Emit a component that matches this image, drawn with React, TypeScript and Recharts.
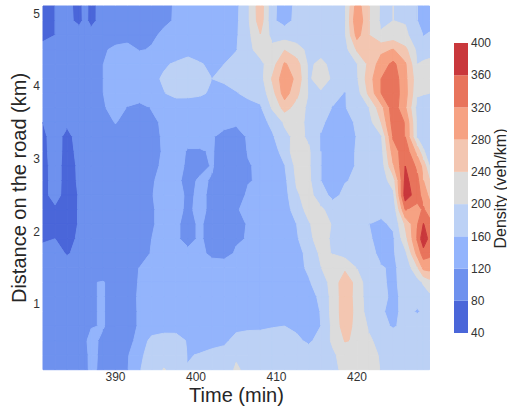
import { ScatterChart, Scatter, XAxis, YAxis, BarChart, Bar } from 'recharts';

const times = [381, 382.5, 384, 385.5, 386.25, 387, 388.5, 390, 391.5, 393, 394.5, 396, 397.5, 399, 400.5, 402, 403.5, 405, 406.5, 408, 409.5, 411, 412.5, 414, 415.5, 417, 418.5, 420, 421.5, 423, 424.5, 426, 427.5, 428.25, 429];
const distances = [5.1, 4.9, 4.7, 4.5, 4.3, 4.1, 3.9, 3.7, 3.5, 3.3, 3.1, 2.9, 2.7, 2.5, 2.3, 2.1, 1.9, 1.7, 1.5, 1.3, 1.1, 0.9, 0.7, 0.5, 0.3, 0.1];

// density (veh/km), one row per distance, top of the plot first
const density = [
  [66, 80, 84, 75, 86, 72, 92, 100, 105, 108, 110, 115, 122, 130, 135, 138, 145, 150, 195, 265, 165, 150, 165, 175, 180, 185, 195, 300, 240, 193, 200, 198, 160, 152, 145],
  [68, 80, 86, 74, 86, 71, 94, 100, 104, 108, 112, 116, 122, 128, 135, 138, 145, 152, 195, 262, 165, 148, 168, 175, 180, 185, 195, 315, 240, 192, 200, 198, 160, 150, 142],
  [72, 80, 90, 92, 92, 92, 96, 102, 108, 112, 116, 124, 130, 135, 138, 142, 150, 155, 190, 238, 185, 180, 180, 180, 185, 188, 195, 295, 240, 205, 215, 205, 185, 158, 165],
  [90, 92, 95, 100, 102, 104, 115, 128, 130, 118, 122, 132, 138, 145, 148, 152, 155, 158, 190, 215, 212, 238, 215, 190, 185, 180, 185, 245, 262, 270, 282, 250, 190, 191, 192],
  [96, 96, 98, 100, 104, 108, 120, 135, 140, 142, 145, 155, 165, 175, 162, 155, 160, 175, 185, 190, 222, 285, 258, 192, 210, 188, 185, 198, 250, 300, 330, 285, 200, 203, 205],
  [98, 100, 102, 104, 108, 112, 120, 138, 142, 144, 150, 165, 178, 178, 170, 160, 165, 172, 176, 185, 245, 305, 270, 192, 225, 192, 185, 195, 262, 320, 345, 290, 215, 215, 215],
  [100, 100, 102, 105, 108, 112, 120, 132, 138, 142, 150, 158, 172, 170, 165, 155, 150, 158, 168, 175, 225, 300, 250, 198, 192, 172, 158, 182, 250, 320, 345, 295, 205, 202, 200],
  [100, 100, 102, 105, 107, 110, 116, 135, 118, 108, 122, 130, 135, 138, 140, 140, 142, 145, 148, 155, 205, 255, 225, 190, 175, 158, 158, 175, 200, 265, 345, 285, 185, 182, 180],
  [80, 92, 84, 96, 98, 100, 102, 122, 104, 102, 112, 126, 130, 132, 132, 130, 128, 125, 135, 145, 170, 205, 215, 190, 165, 150, 148, 165, 185, 240, 340, 318, 190, 182, 175],
  [76, 88, 74, 88, 92, 94, 98, 102, 100, 100, 110, 124, 130, 128, 128, 122, 112, 106, 124, 135, 155, 190, 210, 195, 158, 140, 138, 162, 175, 195, 325, 320, 195, 180, 170],
  [74, 90, 72, 86, 90, 92, 96, 100, 100, 98, 106, 124, 128, 118, 118, 122, 108, 104, 122, 128, 140, 178, 225, 205, 160, 138, 138, 165, 172, 185, 300, 345, 265, 205, 175],
  [72, 90, 70, 84, 88, 90, 94, 98, 98, 96, 114, 124, 128, 116, 112, 122, 104, 102, 118, 125, 135, 158, 212, 205, 160, 135, 140, 165, 170, 178, 275, 360, 310, 265, 200],
  [70, 92, 68, 84, 88, 90, 94, 96, 96, 96, 118, 126, 126, 112, 124, 118, 102, 100, 118, 124, 128, 150, 205, 208, 160, 134, 158, 165, 170, 178, 220, 372, 330, 280, 242],
  [70, 92, 66, 82, 86, 88, 92, 94, 94, 94, 119, 128, 128, 116, 124, 116, 100, 104, 126, 125, 126, 145, 195, 215, 175, 150, 168, 172, 172, 170, 190, 385, 335, 305, 270],
  [72, 74, 68, 82, 86, 88, 92, 92, 92, 94, 118, 126, 126, 116, 126, 114, 102, 118, 126, 128, 130, 142, 178, 215, 208, 180, 172, 170, 170, 168, 170, 322, 308, 325, 300],
  [70, 72, 68, 82, 85, 86, 90, 92, 92, 94, 118, 126, 124, 112, 124, 108, 96, 100, 125, 130, 135, 140, 160, 195, 225, 195, 170, 165, 160, 155, 165, 245, 318, 362, 335],
  [76, 80, 72, 84, 86, 86, 88, 90, 92, 94, 120, 126, 124, 112, 124, 108, 98, 116, 122, 132, 135, 138, 155, 188, 222, 190, 172, 165, 165, 145, 155, 225, 325, 392, 345],
  [90, 88, 78, 86, 86, 86, 88, 90, 92, 96, 124, 128, 130, 126, 128, 112, 108, 124, 130, 134, 136, 138, 148, 170, 208, 198, 185, 178, 170, 152, 156, 190, 295, 340, 330],
  [88, 90, 92, 92, 94, 96, 100, 100, 106, 121, 128, 130, 132, 134, 135, 136, 138, 138, 136, 136, 138, 140, 148, 166, 198, 228, 232, 198, 170, 162, 156, 170, 235, 292, 295],
  [90, 92, 94, 96, 105, 118, 122, 102, 110, 122, 128, 132, 134, 136, 136, 138, 138, 138, 136, 136, 138, 140, 145, 156, 180, 215, 265, 225, 172, 163, 156, 168, 185, 205, 225],
  [92, 92, 94, 96, 106, 118, 122, 102, 108, 124, 130, 134, 134, 136, 136, 138, 138, 138, 136, 136, 138, 140, 144, 150, 165, 215, 262, 225, 175, 165, 156, 165, 168, 178, 190],
  [92, 94, 94, 96, 106, 118, 122, 102, 106, 124, 130, 134, 134, 136, 136, 136, 136, 136, 136, 136, 136, 138, 142, 148, 161, 215, 262, 228, 178, 162, 155, 166, 158, 163, 172],
  [92, 94, 94, 96, 106, 118, 122, 102, 106, 124, 130, 136, 140, 142, 144, 146, 148, 150, 152, 152, 158, 160, 155, 152, 160, 210, 260, 225, 195, 170, 156, 170, 172, 173, 174],
  [92, 94, 94, 104, 116, 130, 112, 104, 112, 128, 175, 185, 180, 155, 148, 145, 152, 172, 178, 180, 175, 175, 165, 155, 170, 208, 242, 236, 205, 188, 185, 185, 180, 179, 178],
  [92, 94, 94, 100, 113, 128, 112, 104, 116, 154, 172, 185, 190, 158, 162, 172, 175, 195, 185, 182, 180, 178, 175, 175, 178, 192, 220, 225, 215, 195, 188, 185, 182, 181, 180],
  [92, 94, 94, 100, 112, 128, 110, 104, 118, 158, 178, 202, 190, 162, 168, 178, 182, 205, 190, 185, 182, 180, 178, 178, 182, 190, 210, 232, 238, 195, 190, 186, 184, 183, 182],
];

const levels = [40, 80, 120, 160, 200, 240, 280, 320, 360];
const bandColors = ['#4a66d9', '#6e91ee', '#93b4fc', '#bcd1f5', '#dcdcdc', '#f3c6b1', '#f6a283', '#e8745c', '#c9383c'];
const barTicks = [40, 80, 120, 160, 200, 240, 280, 320, 360, 400];
const timeTicks = [390, 400, 410, 420];
const distanceTicks = [1, 2, 3, 4, 5];

const PLOT_W = 386.5;
const PLOT_H = 363.7;
const PX_PER_MIN = PLOT_W / (times[times.length - 1] - times[0]);
const PX_PER_KM = PLOT_H / (distances[0] - distances[distances.length - 1]);

const cells: { time: number; distance: number; col: number; row: number }[] = [];
distances.slice(0, -1).forEach((distance, row) => {
  times.slice(0, -1).forEach((time, col) => {
    cells.push({ time, distance, col, row });
  });
});

const barRow = [{ name: 'density', base: 40, b0: 40, b1: 40, b2: 40, b3: 40, b4: 40, b5: 40, b6: 40, b7: 40, b8: 40 }];

type Pt = { x: number; y: number; v: number };

// keep the part of a polygon on one side of a level, values are linear along the edges
function clip(poly: Pt[], level: number, sign: number) {
  const out: Pt[] = [];
  poly.forEach((a, i) => {
    const b = poly[(i + 1) % poly.length];
    const aIn = (a.v - level) * sign >= 0;
    const bIn = (b.v - level) * sign >= 0;
    if (aIn) out.push(a);
    if (aIn !== bIn) {
      const f = (level - a.v) / (b.v - a.v);
      out.push({ x: a.x + (b.x - a.x) * f, y: a.y + (b.y - a.y) * f, v: level });
    }
  });
  return out;
}

const ContourCell = (props: any) => {
  const { cx, cy, payload } = props;
  const { col, row } = payload;
  const w = (times[col + 1] - times[col]) * PX_PER_MIN;
  const h = (distances[row] - distances[row + 1]) * PX_PER_KM;
  const corners: Pt[] = [
    { x: cx, y: cy, v: density[row][col] },
    { x: cx + w, y: cy, v: density[row][col + 1] },
    { x: cx + w, y: cy + h, v: density[row + 1][col + 1] },
    { x: cx, y: cy + h, v: density[row + 1][col] },
  ];
  return (
    <g>
      {levels.map((level, i) => {
        const poly = clip(clip(corners, level, 1), level + 40, -1);
        if (poly.length < 3) return null;
        const d = 'M' + poly.map((p) => `${p.x.toFixed(2)},${p.y.toFixed(2)}`).join('L') + 'Z';
        return <path key={level} d={d} fill={bandColors[i]} stroke={bandColors[i]} strokeWidth={1} />;
      })}
    </g>
  );
};

const font = '"Liberation Sans", Arial, sans-serif';
const tickStyle = { fontSize: 12, fill: '#333333', fontFamily: font };

const AxisTitle = ({ x, y, rotate, size, children }: any) => (
  <text
    x={x}
    y={y}
    transform={rotate ? `rotate(-90 ${x} ${y})` : undefined}
    textAnchor="middle"
    fontSize={size}
    fontFamily={font}
    fill="#262626"
  >
    {children}
  </text>
);

export default function App() {
  return (
    <div style={{ position: 'absolute', left: 0, top: 0, width: 507, height: 407, overflow: 'hidden', background: '#fff' }}>
      <div style={{ position: 'absolute', left: 0, top: 0 }}>
        <ScatterChart width={435} height={407} margin={{ top: 6, right: 5.5, bottom: 0, left: 0 }}>
          <XAxis
            type="number"
            dataKey="time"
            domain={[381, 429]}
            ticks={timeTicks}
            axisLine={false}
            tickLine={false}
            tickSize={0}
            tickMargin={3}
            height={37.3}
            tick={tickStyle}
            label={{ content: () => <AxisTitle x={236.5} y={401.5} size={20}>Time (min)</AxisTitle> }}
          />
          <YAxis
            type="number"
            dataKey="distance"
            domain={[0.1, 5.1]}
            ticks={distanceTicks}
            axisLine={false}
            tickLine={false}
            tickSize={0}
            tickMargin={3}
            width={43}
            tick={tickStyle}
            label={{ content: () => <AxisTitle x={25.5} y={188} rotate size={20}>Distance on the road (km)</AxisTitle> }}
          />
          <Scatter data={cells} isAnimationActive={false} shape={ContourCell} />
        </ScatterChart>
      </div>
      <div style={{ position: 'absolute', left: 454, top: 0 }}>
        <BarChart width={53} height={407} data={barRow} margin={{ top: 43, right: 0, bottom: 74, left: 0 }} barCategoryGap={0}>
          <XAxis dataKey="name" hide />
          <YAxis
            orientation="right"
            type="number"
            domain={[40, 400]}
            ticks={barTicks}
            allowDataOverflow
            axisLine={false}
            tickLine={false}
            tickSize={0}
            tickMargin={3}
            width={39}
            interval={0}
            tick={tickStyle}
            label={{ content: () => <AxisTitle x={52} y={188.5} rotate size={16}>Density (veh/km)</AxisTitle> }}
          />
          <Bar dataKey="base" stackId="d" fill="none" isAnimationActive={false} />
          {levels.map((level, i) => (
            <Bar key={level} dataKey={`b${i}`} stackId="d" fill={bandColors[i]} isAnimationActive={false} />
          ))}
        </BarChart>
      </div>
    </div>
  );
}
